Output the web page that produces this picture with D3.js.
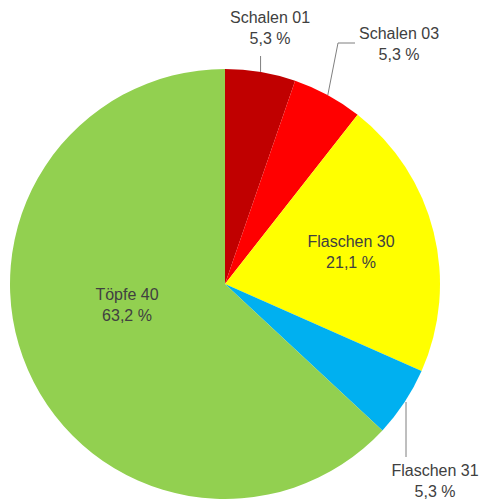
<!DOCTYPE html>
<html><head><meta charset="utf-8">
<script src="https://cdn.jsdelivr.net/npm/d3@7"></script>
<style>body{margin:0;background:#fff}svg{display:block}</style>
</head><body>
<script>
const categories = ["Schalen 01","Schalen 03","Flaschen 30","Flaschen 31","Töpfe 40"];
const values = [5.3, 5.3, 21.1, 5.3, 63.2];
const valueLabels = ["5,3 %","5,3 %","21,1 %","5,3 %","63,2 %"];
const colors = ["#c00000","#ff0000","#ffff00","#00b0f0","#92d050"];

const W = 483, H = 501, cx = 225, cy = 284, R = 215;
const svg = d3.select("body").append("svg").attr("width", W).attr("height", H);
const g = svg.append("g").attr("transform", `translate(${cx},${cy})`);
const pie = d3.pie().sort(null).value(d => d);
const arcs = pie(values);
const arc = d3.arc().innerRadius(0).outerRadius(R);
g.selectAll("path").data(arcs).join("path")
  .attr("d", arc).attr("fill", (d,i) => colors[i]);

// label positions (offset in px from centre) per slice
const labelPos = [[45,-261],[174,-245],[126,-37],[210,192],[-98,16]];
const font = "Liberation Sans, Arial, sans-serif";
arcs.forEach((a,i) => {
  const [lx,ly] = labelPos[i];
  const t = g.append("text").attr("text-anchor","middle").attr("font-family",font)
    .attr("font-size",16).attr("fill","#404040");
  t.append("tspan").attr("x",lx).attr("y",ly).text(categories[i]);
  t.append("tspan").attr("x",lx).attr("y",ly+21).text(valueLabels[i]);
});
// leader lines
const mid = a => (a.startAngle + a.endAngle)/2;
const edge = a => [R*Math.sin(mid(a)), -R*Math.cos(mid(a))];
const ln = g.append("g").attr("stroke","#7f7f7f").attr("fill","none").attr("stroke-width",1);
{ const [ex,ey] = edge(arcs[0]); ln.append("path").attr("d",`M${ex},${ey}L${ex},${-228}`); }
{ const [ex,ey] = edge(arcs[1]); ln.append("path").attr("d",`M${ex},${ey}L${113},${-241}L${130},${-241}`); }
{ ln.append("path").attr("d",`M${181},${118}L${181},${173}`); }
</script>
</body></html>
